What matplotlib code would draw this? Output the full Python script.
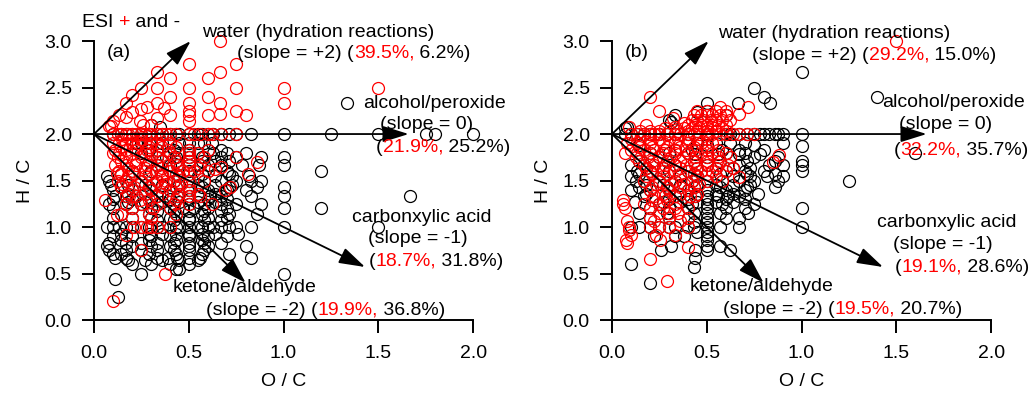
import numpy as np
import matplotlib
matplotlib.use('Agg')
import matplotlib.pyplot as plt

plt.rcParams['font.family'] = ['Liberation Sans', 'DejaVu Sans']

# ---- datos (O/C, H/C) ----
# panel (a), negro = ESI -
a_neg = [
    (0.1, 2.0), (0.14, 2.0), (0.17, 2.0), (0.2, 2.0), (0.25, 2.0), (0.29, 2.0), (0.33, 2.0), (0.36, 2.0),
    (0.4, 2.0), (0.43, 2.0), (0.45, 2.0), (0.5, 2.0), (0.55, 2.0), (0.57, 2.0), (0.6, 2.0), (0.63, 2.0),
    (0.67, 2.0), (0.71, 2.0), (0.75, 2.0), (0.83, 2.0), (1.0, 2.0), (1.25, 2.0), (1.5, 2.0), (1.75, 2.0),
    (1.8, 2.0), (2.0, 2.0), (0.3, 2.1), (0.35, 2.08), (1.333, 2.333),
    (0.22, 1.9), (0.25, 1.9), (0.29, 1.9), (0.33, 1.9), (0.36, 1.9), (0.4, 1.9), (0.45, 1.9), (0.5, 1.9),
    (0.55, 1.9), (0.58, 1.9), (0.62, 1.9),
    (0.29, 1.83), (0.33, 1.83), (0.42, 1.83), (0.5, 1.83), (0.6, 1.83), (0.67, 1.83),
    (0.25, 1.8), (0.4, 1.8), (0.45, 1.8), (0.5, 1.8), (0.55, 1.8), (0.63, 1.8), (0.7, 1.8), (0.8, 1.8),
    (0.33, 1.75), (0.38, 1.75), (0.43, 1.75), (0.5, 1.75), (0.57, 1.75), (0.67, 1.75), (0.75, 1.75),
    (0.88, 1.75), (1.0, 1.75),
    (0.29, 1.71), (0.36, 1.71), (0.43, 1.71), (0.5, 1.71), (0.57, 1.71), (0.64, 1.71), (0.71, 1.71),
    (0.33, 1.67), (0.4, 1.67), (0.44, 1.67), (0.5, 1.67), (0.56, 1.67), (0.6, 1.67), (0.67, 1.67),
    (0.78, 1.67), (0.87, 1.67), (1.0, 1.667),
    (0.2, 1.6), (0.3, 1.6), (0.4, 1.6), (0.5, 1.6), (0.6, 1.6), (0.7, 1.6), (1.2, 1.6),
    (0.14, 1.57), (0.29, 1.57), (0.43, 1.57), (0.57, 1.57), (0.71, 1.57),
    (0.07, 1.55), (0.36, 1.55), (0.45, 1.55), (0.55, 1.55), (0.64, 1.55), (0.73, 1.55), (0.82, 1.55),
    (0.08, 1.5), (0.17, 1.5), (0.25, 1.5), (0.33, 1.5), (0.42, 1.5), (0.5, 1.5), (0.58, 1.5), (0.67, 1.5),
    (0.75, 1.5), (0.83, 1.5), (0.88, 1.5),
    (0.09, 1.45), (0.18, 1.45), (0.27, 1.45), (0.36, 1.45), (0.45, 1.45), (0.55, 1.45), (0.64, 1.45),
    (0.73, 1.45),
    (0.14, 1.43), (0.29, 1.43), (0.43, 1.43), (0.57, 1.43), (0.71, 1.43), (0.86, 1.43), (1.0, 1.43),
    (0.1, 1.4), (0.2, 1.4), (0.3, 1.4), (0.4, 1.4), (0.5, 1.4), (0.6, 1.4), (0.7, 1.4), (0.8, 1.4),
    (0.18, 1.36), (0.27, 1.36), (0.36, 1.36), (0.45, 1.36), (0.55, 1.36), (0.64, 1.36),
    (0.11, 1.33), (0.17, 1.33), (0.22, 1.33), (0.33, 1.33), (0.39, 1.33), (0.44, 1.33), (0.5, 1.33),
    (0.56, 1.33), (0.61, 1.33), (0.67, 1.33), (0.83, 1.33), (1.0, 1.333), (1.667, 1.333),
    (0.1, 1.3), (0.2, 1.3), (0.3, 1.3), (0.4, 1.3), (0.5, 1.3), (0.6, 1.3), (0.7, 1.3),
    (0.18, 1.27), (0.27, 1.27), (0.36, 1.27), (0.45, 1.27), (0.55, 1.27), (0.64, 1.27),
    (0.08, 1.25), (0.17, 1.25), (0.25, 1.25), (0.33, 1.25), (0.42, 1.25), (0.5, 1.25), (0.58, 1.25),
    (0.67, 1.25), (0.75, 1.25), (0.88, 1.25),
    (0.1, 1.2), (0.2, 1.2), (0.3, 1.2), (0.4, 1.2), (0.47, 1.2), (0.53, 1.2), (0.6, 1.2), (0.7, 1.2),
    (1.0, 1.2), (1.2, 1.2),
    (0.33, 1.17), (0.42, 1.17), (0.5, 1.17), (0.58, 1.17), (0.67, 1.17),
    (0.14, 1.14), (0.29, 1.14), (0.43, 1.14), (0.57, 1.14), (0.71, 1.14), (0.86, 1.14),
    (0.1, 1.1), (0.2, 1.1), (0.3, 1.1), (0.4, 1.1), (0.5, 1.1), (0.6, 1.1), (0.7, 1.1),
    (0.33, 1.08), (0.42, 1.08), (0.5, 1.08), (0.58, 1.08), (0.67, 1.08),
    (0.07, 1.0), (0.1, 1.0), (0.13, 1.0), (0.17, 1.0), (0.2, 1.0), (0.25, 1.0), (0.29, 1.0), (0.33, 1.0),
    (0.36, 1.0), (0.4, 1.0), (0.43, 1.0), (0.45, 1.0), (0.5, 1.0), (0.55, 1.0), (0.57, 1.0), (0.6, 1.0),
    (0.63, 1.0), (0.67, 1.0), (0.71, 1.0), (0.75, 1.0), (0.83, 1.0), (1.0, 1.0), (1.5, 1.0),
    (0.14, 0.93), (0.29, 0.93), (0.36, 0.93), (0.43, 0.93), (0.5, 0.93), (0.57, 0.93), (0.64, 0.93),
    (0.76, 0.93),
    (0.1, 0.9), (0.2, 0.9), (0.3, 0.9), (0.4, 0.9), (0.5, 0.9), (0.6, 0.9), (0.7, 0.9),
    (0.14, 0.86), (0.29, 0.86), (0.43, 0.86), (0.57, 0.86),
    (0.08, 0.83), (0.17, 0.83), (0.25, 0.83), (0.33, 0.83), (0.42, 0.83), (0.5, 0.83), (0.58, 0.83),
    (0.67, 0.83),
    (0.07, 0.8), (0.2, 0.8), (0.3, 0.8), (0.4, 0.8), (0.5, 0.8), (0.6, 0.8), (0.8, 0.8),
    (0.08, 0.75), (0.17, 0.75), (0.25, 0.75), (0.33, 0.75), (0.42, 0.75), (0.5, 0.75), (0.58, 0.75),
    (0.1, 0.71), (0.14, 0.71), (0.29, 0.71), (0.43, 0.71), (0.57, 0.71), (0.71, 0.71),
    (0.11, 0.67), (0.17, 0.67), (0.33, 0.67), (0.39, 0.67), (0.44, 0.67), (0.5, 0.67), (0.56, 0.67),
    (0.83, 0.67),
    (0.18, 0.64), (0.27, 0.64), (0.36, 0.64), (0.45, 0.64), (0.55, 0.64),
    (0.2, 0.6), (0.3, 0.6), (0.4, 0.6), (0.5, 0.6),
    (0.43, 0.55), (0.45, 0.55), (0.25, 0.5), (1.0, 0.5), (0.11, 0.44), (0.125, 0.25),
]

# panel (a), rojo = ESI +
a_pos = [
    (0.667, 3.0), (0.5, 2.75), (0.75, 2.75), (0.33, 2.67), (0.667, 2.667), (0.4, 2.6), (0.6, 2.6),
    (0.25, 2.5), (0.33, 2.5), (0.5, 2.5), (0.75, 2.5), (1.0, 2.5), (1.5, 2.5), (0.2, 2.42), (0.4, 2.4),
    (0.6, 2.4), (0.167, 2.33), (0.33, 2.33), (0.5, 2.33), (0.667, 2.33), (1.0, 2.33), (0.28, 2.29),
    (0.37, 2.28), (0.25, 2.27), (0.5, 2.25), (0.75, 2.25), (0.2, 2.24), (0.13, 2.2), (0.17, 2.18),
    (0.4, 2.2), (0.5, 2.2), (0.6, 2.2), (0.667, 2.22), (0.8, 2.2), (0.1, 2.14), (0.24, 2.14),
    (0.33, 2.17), (0.08, 2.09), (0.09, 2.09), (0.3, 2.1), (0.5, 2.14), (0.26, 2.1),
    (0.1, 2.0), (0.125, 2.0), (0.14, 2.0), (0.167, 2.0), (0.18, 2.0), (0.2, 2.0), (0.22, 2.0),
    (0.25, 2.0), (0.27, 2.0), (0.29, 2.0), (0.3, 2.0), (0.33, 2.0), (0.36, 2.0), (0.38, 2.0), (0.4, 2.0),
    (0.43, 2.0), (0.5, 2.0), (0.53, 2.0), (0.56, 2.0), (0.6, 2.0), (0.625, 2.0), (0.67, 2.0), (0.75, 2.0),
    (0.15, 1.95), (0.2, 1.95), (0.25, 1.95), (0.3, 1.95),
    (0.1, 1.9), (0.13, 1.9), (0.17, 1.9), (0.2, 1.9), (0.23, 1.9), (0.27, 1.9), (0.3, 1.9), (0.33, 1.9),
    (0.4, 1.9),
    (0.14, 1.86), (0.21, 1.86), (0.29, 1.86), (0.36, 1.86), (0.43, 1.86),
    (0.11, 1.83), (0.17, 1.83), (0.22, 1.83), (0.28, 1.83), (0.33, 1.83), (0.39, 1.83), (0.5, 1.83),
    (0.6, 1.83),
    (0.1, 1.8), (0.13, 1.8), (0.2, 1.8), (0.27, 1.8), (0.3, 1.8), (0.4, 1.8), (0.5, 1.8), (0.55, 1.8),
    (0.125, 1.75), (0.17, 1.75), (0.25, 1.75), (0.33, 1.75), (0.42, 1.75), (0.5, 1.75), (0.58, 1.75),
    (0.75, 1.75),
    (0.14, 1.71), (0.21, 1.71), (0.29, 1.71), (0.36, 1.71), (0.43, 1.71), (0.5, 1.71), (0.86, 1.7),
    (0.11, 1.67), (0.17, 1.67), (0.22, 1.67), (0.28, 1.67), (0.33, 1.67), (0.39, 1.67), (0.44, 1.67),
    (0.5, 1.67), (0.56, 1.67), (0.67, 1.65),
    (0.18, 1.64), (0.27, 1.64), (0.36, 1.64), (0.45, 1.64), (0.55, 1.64), (0.64, 1.62),
    (0.13, 1.6), (0.2, 1.6), (0.27, 1.6), (0.33, 1.6), (0.4, 1.6), (0.47, 1.6), (0.53, 1.6), (0.6, 1.6),
    (0.14, 1.57), (0.21, 1.57), (0.29, 1.57), (0.36, 1.57), (0.43, 1.57), (0.5, 1.57), (0.81, 1.57),
    (0.12, 1.58),
    (0.18, 1.55), (0.27, 1.55), (0.36, 1.55), (0.45, 1.55),
    (0.125, 1.5), (0.17, 1.5), (0.25, 1.5), (0.33, 1.5), (0.38, 1.5), (0.42, 1.5), (0.5, 1.5),
    (0.58, 1.5),
    (0.15, 1.46), (0.23, 1.46), (0.31, 1.46), (0.38, 1.46), (0.46, 1.46),
    (0.14, 1.43), (0.21, 1.43), (0.29, 1.43), (0.36, 1.43), (0.43, 1.43), (0.5, 1.43), (0.72, 1.43),
    (0.2, 1.4), (0.3, 1.4), (0.4, 1.4), (0.5, 1.4), (0.69, 1.4),
    (0.18, 1.36), (0.27, 1.36), (0.36, 1.36), (0.45, 1.36), (0.55, 1.36),
    (0.17, 1.33), (0.22, 1.33), (0.33, 1.33), (0.44, 1.33), (0.5, 1.33), (0.56, 1.33),
    (0.06, 1.29), (0.24, 1.29), (0.29, 1.29), (0.43, 1.29),
    (0.17, 1.25), (0.25, 1.25), (0.33, 1.25), (0.42, 1.25), (0.5, 1.25), (0.62, 1.25),
    (0.2, 1.2), (0.31, 1.2), (0.4, 1.2),
    (0.14, 1.14), (0.29, 1.14), (0.43, 1.14), (0.12, 1.13), (0.2, 1.1), (0.3, 1.1),
    (0.21, 1.0), (0.25, 1.0), (0.28, 1.0), (0.3, 1.0), (0.33, 1.0), (0.4, 1.0),
    (0.17, 0.91), (0.25, 0.75), (0.375, 0.5), (0.1, 0.2),
]

# panel (b), negro = ESI -
b_neg = [
    (1.0, 2.667), (0.75, 2.5), (0.8, 2.4), (0.833, 2.333), (0.667, 2.333), (0.5, 2.333), (1.4, 2.4),
    (0.45, 2.24), (0.5, 2.25), (0.33, 2.2), (0.3, 2.15), (0.6, 2.2), (0.31, 2.13), (0.07, 2.07),
    (0.08, 2.08),
    (0.07, 2.0), (0.1, 2.0), (0.13, 2.0), (0.17, 2.0), (0.2, 2.0), (0.25, 2.0), (0.29, 2.0), (0.33, 2.0),
    (0.4, 2.0), (0.5, 2.0), (0.6, 2.0), (0.62, 2.0), (0.67, 2.0), (0.71, 2.0), (0.75, 2.0), (0.78, 2.0),
    (0.8, 2.0), (0.83, 2.0), (0.86, 2.0), (0.875, 2.0), (0.9, 2.0), (1.0, 2.0),
    (0.45, 1.9), (0.55, 1.9), (0.62, 1.9), (0.7, 1.9), (0.9, 1.9),
    (0.14, 1.88), (0.5, 1.88), (0.75, 1.88), (1.0, 1.875),
    (0.33, 1.83), (0.42, 1.83), (0.58, 1.83), (0.67, 1.83), (0.8, 1.83),
    (0.2, 1.8), (0.3, 1.8), (0.4, 1.8), (0.6, 1.8), (0.7, 1.8), (1.6, 1.8),
    (0.44, 1.78), (0.56, 1.78), (0.67, 1.78), (0.78, 1.78),
    (0.25, 1.75), (0.5, 1.75), (0.625, 1.75), (0.75, 1.75), (0.875, 1.75),
    (0.14, 1.71), (0.29, 1.71), (0.43, 1.71), (0.57, 1.71), (0.71, 1.71), (0.86, 1.71), (1.0, 1.71),
    (0.1, 1.67), (0.17, 1.67), (0.33, 1.67), (0.5, 1.67), (0.67, 1.67), (0.83, 1.67), (0.9, 1.67),
    (1.0, 1.667),
    (0.18, 1.64), (0.27, 1.64), (0.45, 1.64), (0.55, 1.64), (0.64, 1.64), (0.73, 1.64),
    (0.13, 1.6), (0.2, 1.6), (0.3, 1.6), (0.4, 1.6), (0.6, 1.6), (0.7, 1.6), (0.8, 1.6), (1.0, 1.6),
    (0.14, 1.57), (0.43, 1.57), (0.57, 1.57), (0.71, 1.57), (0.86, 1.57),
    (0.1, 1.55), (0.36, 1.55), (0.45, 1.55), (0.64, 1.55), (0.73, 1.55), (0.82, 1.55), (0.9, 1.55),
    (0.125, 1.5), (0.17, 1.5), (0.25, 1.5), (0.33, 1.5), (0.42, 1.5), (0.5, 1.5), (0.58, 1.5),
    (0.67, 1.5), (0.75, 1.5), (0.875, 1.5), (1.25, 1.5),
    (0.18, 1.45), (0.27, 1.45), (0.36, 1.45), (0.45, 1.45), (0.55, 1.45), (0.64, 1.45), (0.73, 1.45),
    (0.14, 1.43), (0.29, 1.43), (0.43, 1.43), (0.57, 1.43), (0.71, 1.43), (0.86, 1.43),
    (0.1, 1.4), (0.2, 1.4), (0.3, 1.4), (0.4, 1.4), (0.5, 1.4), (0.6, 1.4), (0.7, 1.4),
    (0.18, 1.36), (0.36, 1.36), (0.45, 1.36), (0.55, 1.36), (0.64, 1.36), (0.77, 1.36),
    (0.17, 1.33), (0.33, 1.33), (0.44, 1.33), (0.5, 1.33), (0.56, 1.33), (0.61, 1.33), (0.67, 1.33),
    (0.3, 1.3), (0.4, 1.3), (0.5, 1.3), (0.6, 1.3), (0.7, 1.3),
    (0.12, 1.27), (0.27, 1.27), (0.36, 1.27), (0.45, 1.27), (0.55, 1.27), (0.64, 1.27),
    (0.25, 1.25), (0.42, 1.25), (0.5, 1.25), (0.58, 1.25), (0.75, 1.25),
    (0.2, 1.2), (0.3, 1.2), (0.4, 1.2), (0.5, 1.2), (0.6, 1.2), (0.7, 1.2), (1.0, 1.2),
    (0.14, 1.15), (0.29, 1.15), (0.43, 1.15), (0.5, 1.15), (0.57, 1.15), (0.72, 1.15),
    (0.2, 1.1), (0.3, 1.1), (0.4, 1.1), (0.5, 1.1), (0.6, 1.1), (0.67, 1.1),
    (0.43, 1.05), (0.5, 1.05),
    (0.1, 1.0), (0.14, 1.0), (0.2, 1.0), (0.25, 1.0), (0.3, 1.0), (0.33, 1.0), (0.4, 1.0), (0.43, 1.0),
    (0.5, 1.0), (0.57, 1.0), (0.67, 1.0), (1.0, 1.0),
    (0.45, 0.95), (0.5, 0.95), (0.22, 0.9), (0.33, 0.9), (0.38, 0.9), (0.5, 0.9), (0.5, 0.86),
    (0.31, 0.8), (0.5, 0.8), (0.57, 0.8), (0.26, 0.75), (0.44, 0.75), (0.5, 0.75), (0.625, 0.75),
    (0.44, 0.67), (0.1, 0.6), (0.43, 0.57), (0.2, 0.4),
]

# panel (b), rojo = ESI +
b_pos = [
    (1.5, 3.0), (0.2, 2.4), (0.25, 2.25), (0.32, 2.17), (0.38, 2.12), (0.18, 2.1), (0.09, 2.08),
    (0.67, 2.22), (0.72, 2.29), (0.57, 2.29), (0.33, 2.08), (0.28, 2.07),
    (0.45, 2.25), (0.5, 2.25), (0.55, 2.25), (0.6, 2.25),
    (0.43, 2.2), (0.47, 2.2), (0.5, 2.2), (0.53, 2.2), (0.57, 2.2), (0.6, 2.2),
    (0.42, 2.15), (0.45, 2.15), (0.48, 2.15), (0.52, 2.15), (0.55, 2.15), (0.58, 2.15), (0.62, 2.15),
    (0.4, 2.1), (0.44, 2.1), (0.47, 2.1), (0.5, 2.1), (0.53, 2.1), (0.56, 2.1), (0.6, 2.1),
    (0.38, 2.06), (0.42, 2.06), (0.46, 2.06), (0.5, 2.06), (0.54, 2.06), (0.58, 2.06),
    (0.15, 2.03), (0.2, 2.03), (0.25, 2.03), (0.3, 2.03), (0.35, 2.03), (0.4, 2.03), (0.45, 2.03),
    (0.5, 2.03), (0.55, 2.03), (0.6, 2.03),
    (0.1, 2.0), (0.13, 2.0), (0.17, 2.0), (0.2, 2.0), (0.22, 2.0), (0.25, 2.0), (0.29, 2.0), (0.33, 2.0),
    (0.36, 2.0), (0.4, 2.0), (0.43, 2.0), (0.46, 2.0), (0.5, 2.0), (0.53, 2.0), (0.57, 2.0), (0.6, 2.0),
    (0.64, 2.0), (0.67, 2.0), (0.71, 2.0), (0.75, 2.0),
    (0.1, 1.95), (0.15, 1.95), (0.2, 1.95), (0.25, 1.95), (0.3, 1.95), (0.35, 1.95), (0.4, 1.95),
    (0.45, 1.95), (0.5, 1.95),
    (0.08, 1.9), (0.13, 1.9), (0.2, 1.9), (0.27, 1.9), (0.33, 1.9), (0.4, 1.9), (0.47, 1.9), (0.53, 1.9),
    (0.14, 1.86), (0.21, 1.86), (0.29, 1.86), (0.36, 1.86), (0.43, 1.86), (0.5, 1.86),
    (0.1, 1.83), (0.17, 1.83), (0.22, 1.83), (0.28, 1.83), (0.33, 1.83), (0.39, 1.83), (0.44, 1.83),
    (0.5, 1.83), (0.56, 1.83),
    (0.07, 1.8), (0.13, 1.8), (0.2, 1.8), (0.27, 1.8), (0.33, 1.8), (0.4, 1.8), (0.47, 1.8), (0.53, 1.8),
    (0.6, 1.8),
    (0.125, 1.75), (0.19, 1.75), (0.25, 1.75), (0.31, 1.75), (0.375, 1.75), (0.44, 1.75), (0.5, 1.75),
    (0.56, 1.75), (0.625, 1.75), (0.88, 1.77),
    (0.14, 1.71), (0.21, 1.71), (0.29, 1.71), (0.36, 1.71), (0.43, 1.71), (0.5, 1.71), (0.57, 1.71),
    (0.85, 1.7),
    (0.17, 1.67), (0.22, 1.67), (0.28, 1.67), (0.33, 1.67), (0.39, 1.67), (0.44, 1.67), (0.5, 1.67),
    (0.56, 1.67), (0.61, 1.67),
    (0.18, 1.64), (0.27, 1.64), (0.36, 1.64), (0.45, 1.64), (0.55, 1.64), (0.64, 1.64),
    (0.2, 1.6), (0.27, 1.6), (0.33, 1.6), (0.4, 1.6), (0.47, 1.6), (0.53, 1.6), (0.6, 1.6),
    (0.21, 1.57), (0.29, 1.57), (0.36, 1.57), (0.43, 1.57), (0.5, 1.57),
    (0.18, 1.55), (0.27, 1.55), (0.45, 1.55), (0.55, 1.55), (0.67, 1.54),
    (0.17, 1.5), (0.25, 1.5), (0.33, 1.5), (0.42, 1.5), (0.5, 1.5), (0.58, 1.5),
    (0.23, 1.46), (0.31, 1.46), (0.38, 1.46), (0.46, 1.46),
    (0.21, 1.43), (0.29, 1.43), (0.36, 1.43), (0.43, 1.43),
    (0.2, 1.4), (0.3, 1.4), (0.4, 1.4),
    (0.27, 1.36), (0.36, 1.36), (0.45, 1.36),
    (0.22, 1.33), (0.28, 1.33), (0.33, 1.33), (0.41, 1.33), (0.44, 1.33),
    (0.06, 1.29), (0.21, 1.29), (0.29, 1.29),
    (0.06, 1.25), (0.17, 1.25), (0.25, 1.25), (0.33, 1.25),
    (0.07, 1.2), (0.2, 1.2), (0.27, 1.2), (0.33, 1.2), (0.4, 1.2),
    (0.25, 1.15), (0.3, 1.15), (0.35, 1.15), (0.2, 1.1), (0.3, 1.1), (0.4, 1.1),
    (0.08, 1.07), (0.22, 1.07), (0.36, 1.07),
    (0.09, 1.0), (0.2, 1.0), (0.25, 1.0), (0.3, 1.0), (0.4, 1.0), (0.09, 0.97),
    (0.1, 0.91), (0.23, 0.91), (0.33, 0.91), (0.075, 0.86), (0.255, 0.86), (0.08, 0.83),
    (0.4, 0.79), (0.2, 0.66), (0.29, 0.42),
]

# porcentajes (ESI+, ESI-) por tipo de reaccion
pct_a = {'water': ('39.5%,', ' 6.2%)'), 'alcohol': ('21.9%,', ' 25.2%)'),
         'acid': ('18.7%,', ' 31.8%)'), 'ketone': ('19.9%,', ' 36.8%)')}
pct_b = {'water': ('29.2%,', ' 15.0%)'), 'alcohol': ('32.2%,', ' 35.7%)'),
         'acid': ('19.1%,', ' 28.6%)'), 'ketone': ('19.5%,', ' 20.7%)')}

FS = 14
RED = '#ff0000'


def color_text(ax, x, y, parts):
    # texto con varios colores, una pieza tras otra
    t = ax.text(x, y, parts[0][0], color=parts[0][1], fontsize=FS, ha='left', va='center',
                clip_on=False)
    for s, c in parts[1:]:
        t = ax.annotate(s, xy=(1, 0), xycoords=t, ha='left', va='bottom', color=c, fontsize=FS)
    return t


def panel(ax, neg, pos, pct, label, tpos):
    neg = np.array(neg)
    pos = np.array(pos)
    ax.plot(neg[:, 0], neg[:, 1], 'o', mfc='none', mec='k', ms=8.6, mew=0.9, clip_on=False)
    ax.plot(pos[:, 0], pos[:, 1], 'o', mfc='none', mec=RED, ms=8.6, mew=0.9, clip_on=False)

    # flechas desde (0, 2)
    for tip in [(0.51, 3.0), (1.66, 2.0), (1.43, 0.57), (0.8, 0.4)]:
        ax.annotate('', xy=tip, xytext=(0, 2), annotation_clip=False,
                    arrowprops=dict(arrowstyle='-|>,head_length=0.8,head_width=0.25',
                                    mutation_scale=20, lw=1.3, color='k',
                                    shrinkA=0, shrinkB=0))

    ax.text(tpos['lab'][0], tpos['lab'][1], label, fontsize=FS, va='center')
    ax.text(tpos['water'][0], tpos['water'][1], 'water (hydration reactions)', fontsize=FS,
            va='center', clip_on=False)
    color_text(ax, tpos['water2'][0], tpos['water2'][1],
               [('(slope = +2) (', 'k'), (pct['water'][0], RED), (pct['water'][1], 'k')])
    ax.text(tpos['alc'][0], tpos['alc'][1], 'alcohol/peroxide', fontsize=FS, va='center',
            clip_on=False)
    ax.text(tpos['alc2'][0], tpos['alc2'][1], '(slope = 0)', fontsize=FS, va='center',
            clip_on=False)
    color_text(ax, tpos['alc3'][0], tpos['alc3'][1],
               [('(', 'k'), (pct['alcohol'][0], RED), (pct['alcohol'][1], 'k')])
    ax.text(tpos['acid'][0], tpos['acid'][1], 'carbonxylic acid', fontsize=FS, va='center',
            clip_on=False)
    ax.text(tpos['acid2'][0], tpos['acid2'][1], '(slope = -1)', fontsize=FS, va='center',
            clip_on=False)
    color_text(ax, tpos['acid3'][0], tpos['acid3'][1],
               [('(', 'k'), (pct['acid'][0], RED), (pct['acid'][1], 'k')])
    ax.text(tpos['ket'][0], tpos['ket'][1], 'ketone/aldehyde', fontsize=FS, va='center')
    color_text(ax, tpos['ket2'][0], tpos['ket2'][1],
               [('(slope = -2) (', 'k'), (pct['ketone'][0], RED), (pct['ketone'][1], 'k')])

    ax.set_xlim(0, 2.0)
    ax.set_ylim(0, 3.0)
    ax.set_xticks([0.0, 0.5, 1.0, 1.5, 2.0])
    ax.set_yticks([0.0, 0.5, 1.0, 1.5, 2.0, 2.5, 3.0])
    ax.set_xticklabels(['0.0', '0.5', '1.0', '1.5', '2.0'])
    ax.set_yticklabels(['0.0', '0.5', '1.0', '1.5', '2.0', '2.5', '3.0'])
    ax.spines['top'].set_visible(False)
    ax.spines['right'].set_visible(False)
    for s in ['left', 'bottom']:
        ax.spines[s].set_linewidth(1.4)
    ax.tick_params(direction='out', length=9, width=1.4, labelsize=FS)
    ax.tick_params(axis='x', pad=9)
    ax.tick_params(axis='y', pad=7)
    ax.set_xlabel('O / C', fontsize=FS, labelpad=8)
    ax.set_ylabel('H / C', fontsize=FS, labelpad=8)


fig = plt.figure(figsize=(10.3, 3.94), dpi=100)
ax1 = fig.add_axes([0.0913, 0.1878, 0.368, 0.708])
ax2 = fig.add_axes([0.5942, 0.1878, 0.368, 0.708])

pos_a = {'lab': (0.069, 2.88), 'water': (0.57, 3.093), 'water2': (0.755, 2.868),
         'alc': (1.419, 2.331), 'alc2': (1.509, 2.105), 'alc3': (1.488, 1.858),
         'acid': (1.361, 1.106), 'acid2': (1.446, 0.881), 'acid3': (1.451, 0.634),
         'ket': (0.417, 0.354), 'ket2': (0.591, 0.107)}
pos_b = {'lab': (0.069, 2.88), 'water': (0.559, 3.083), 'water2': (0.739, 2.846),
         'alc': (1.425, 2.342), 'alc2': (1.515, 2.105), 'alc3': (1.488, 1.826),
         'acid': (1.398, 1.053), 'acid2': (1.483, 0.816), 'acid3': (1.493, 0.569),
         'ket': (0.412, 0.365), 'ket2': (0.586, 0.118)}

panel(ax1, a_neg, a_pos, pct_a, '(a)', pos_a)
panel(ax2, b_neg, b_pos, pct_b, '(b)', pos_b)

# ESI + and -
t = ax1.text(-0.032, 1.068, 'ESI ', transform=ax1.transAxes, fontsize=FS, va='center')
t = ax1.annotate('+', xy=(1, 0), xycoords=t, va='bottom', color=RED, fontsize=FS)
ax1.annotate(' and -', xy=(1, 0), xycoords=t, va='bottom', color='k', fontsize=FS)

fig.savefig('out.png', dpi=100)
